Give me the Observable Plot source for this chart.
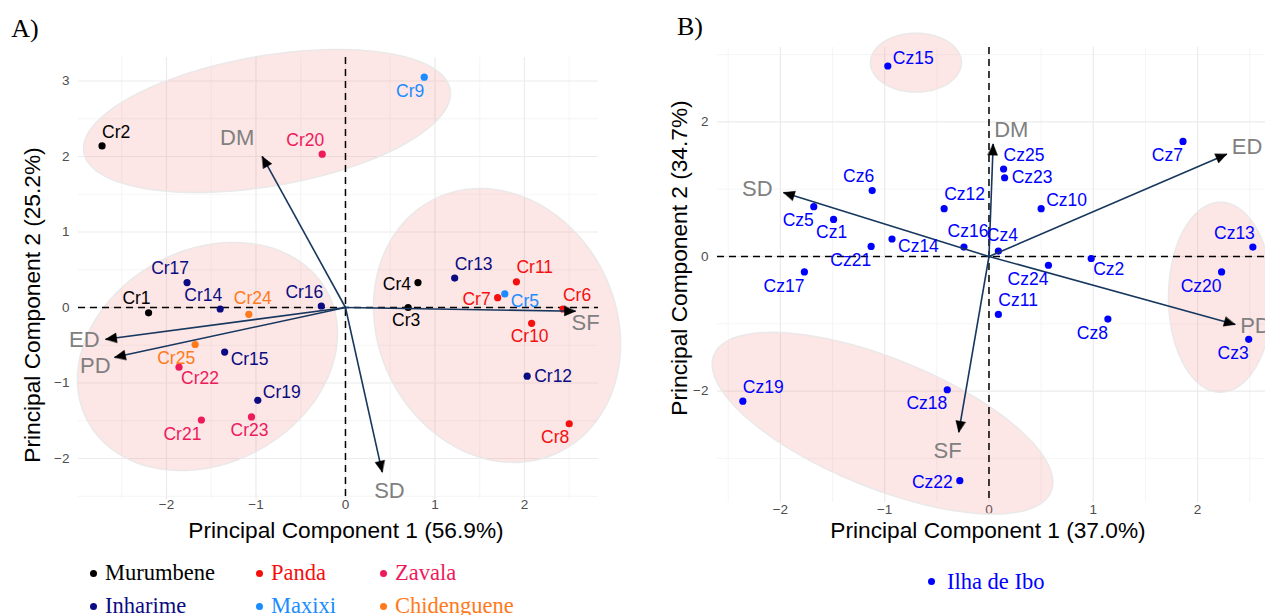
<!DOCTYPE html>
<html>
<head>
<meta charset="utf-8">
<script src="https://cdn.jsdelivr.net/npm/d3@7"></script>
<script src="https://cdn.jsdelivr.net/npm/@observablehq/plot@0.6"></script>
<style>
html,body{margin:0;padding:0;overflow:hidden;background:#fff;width:1265px;height:615px;}
#root{position:relative;width:1265px;height:615px;overflow:hidden;}
#pa{position:absolute;left:0;top:0;width:640px;}
#pb{position:absolute;left:640px;top:0;width:660px;}
.ttl{position:absolute;font-family:"Liberation Sans",Arial,sans-serif;font-size:22.7px;color:#000;white-space:nowrap;line-height:1;transform:translate(-50%,-50%);}
.ttl.rot{transform:translate(-50%,-50%) rotate(-90deg);}
.tag{position:absolute;font-family:"Liberation Serif","Times New Roman",serif;font-size:26px;line-height:1;color:#000;transform:translate(-50%,-50%);}
.legend{position:absolute;display:grid;font-family:"Liberation Serif","Times New Roman",serif;font-size:22.5px;}
.item{display:flex;align-items:center;height:33px;white-space:nowrap;}
.bul{width:7px;height:7px;border-radius:50%;flex:none;}
</style>
</head>
<body>
<div id="root">
  <div id="pa"></div>
  <div id="pb"></div>
</div>
<script>
// ---------------- Panel A data ----------------
const groupsA = ["Murumbene", "Panda", "Zavala", "Inharime", "Maxixi", "Chidenguene"];
const colorsA = ["#000000", "#f50f0f", "#ee1a5c", "#0b0b82", "#1a8cff", "#ff7a1a"];

const namesA = ["Cr1","Cr2","Cr3","Cr4","Cr5","Cr6","Cr7","Cr8","Cr9","Cr10","Cr11","Cr12","Cr13","Cr14","Cr15","Cr16","Cr17","Cr19","Cr20","Cr21","Cr22","Cr23","Cr24","Cr25"];
const pc1A = [-2.20,-2.72,0.70,0.81,1.78,2.43,1.70,2.50,0.88,2.08,1.91,2.03,1.22,-1.40,-1.35,-0.27,-1.77,-0.98,-0.26,-1.61,-1.86,-1.05,-1.08,-1.68];
const pc2A = [-0.07,2.14,0.00,0.33,0.18,-0.02,0.13,-1.54,3.05,-0.21,0.34,-0.91,0.39,-0.02,-0.59,0.02,0.33,-1.23,2.03,-1.49,-0.79,-1.45,-0.09,-0.49];
const siteA = ["Murumbene","Murumbene","Murumbene","Murumbene","Maxixi","Panda","Panda","Panda","Maxixi","Panda","Panda","Inharime","Inharime","Inharime","Inharime","Inharime","Inharime","Inharime","Zavala","Zavala","Zavala","Zavala","Chidenguene","Chidenguene"];
const labelPosA = ["NW","NE","S","W","ESE","NE","W","SW","SW","S","NE","E","NE","NW","ESE","NW","NW","ENE","NW","SW","SE","S","N","SW"];

const varsA = ["DM","ED","PD","SF","SD"];
const loadA1 = [-0.93,-2.68,-2.58,2.57,0.41];
const loadA2 = [2.00,-0.42,-0.66,-0.05,-2.18];
const varPosA = ["NW","W","WSW","SE","SSE"];

// cluster ellipses (centre and two conjugate semi-axes, data units)
const ellA_cx = [-0.877,-1.542,1.693];
const ellA_cy = [2.470,-0.649,-0.238];
const ellA_ax = [2.050,1.453,1.380];
const ellA_ay = [0.364,0.305,-0.246];
const ellA_bx = [0,0,0];
const ellA_by = [0.874,-1.479,1.797];

// ---------------- Panel B data ----------------
const groupsB = ["Ilha de Ibo"];
const colorsB = ["#0000ff"];
const namesB = ["Cz1","Cz2","Cz3","Cz4","Cz5","Cz6","Cz7","Cz8","Cz10","Cz11","Cz12","Cz13","Cz14","Cz15","Cz16","Cz17","Cz18","Cz19","Cz20","Cz21","Cz22","Cz23","Cz24","Cz25"];
const pc1B = [-1.49,0.98,2.49,0.09,-1.68,-1.12,1.86,1.14,0.50,0.09,-0.43,2.53,-0.93,-0.97,-0.24,-1.77,-0.40,-2.36,2.23,-1.13,-0.28,0.15,0.57,0.14];
const pc2B = [0.55,-0.03,-1.23,0.08,0.74,0.98,1.71,-0.93,0.71,-0.86,0.71,0.14,0.26,2.83,0.14,-0.23,-1.98,-2.15,-0.23,0.15,-3.33,1.17,-0.13,1.30];
const labelPosB = ["S","SE","SW","N","SW","NW","SW","SW","ENE","NE","NE","NW","ESE","ENE","N","SW","SW","NE","SW","SW","W","E","SW","NE"];

const varsB = ["SD","DM","ED","PD","SF"];
const loadB1 = [-1.97,0.04,2.28,2.36,-0.29];
const loadB2 = [0.95,1.67,1.52,-1.01,-2.61];
const varPosB = ["WNW","NE","ENE","E","SSW"];

const ellB_cx = [-0.700,-1.021,2.220];
const ellB_cy = [2.880,-2.477,-0.605];
const ellB_ax = [0.436,1.617,0.499];
const ellB_ay = [0,-1.013,0];
const ellB_bx = [0,-0.230,0];
const ellB_by = [0.438,-0.892,1.412];

// tick / grid values
const ticksXA = [-2,-1,0,1,2];
const minorXA = [-2.5,-1.5,-0.5,0.5,1.5,2.5];
const ticksYA = [-2,-1,0,1,2,3];
const minorYA = [-2.5,-1.5,-0.5,0.5,1.5,2.5];
const ticksXB = [-2,-1,0,1,2];
const minorXB = [-2.5,-1.5,-0.5,0.5,1.5,2.5];
const ticksYB = [-2,0,2];
const minorYB = [-3,-1,1,3];

// label placement codes -> [anchor, dx, dy]
const nudgePt = {
  N:["middle",4,-16], S:["middle",-2,13], E:["start",7,0], W:["end",-7,2],
  NE:["start",0,-14], NW:["end",2,-14], SE:["start",2,11], SW:["end",0,14],
  ENE:["start",5,-8], ESE:["start",6,7]
};
const nudgeVar = {
  NW:["end",-8,-19], W:["end",-6,1], WSW:["end",-4,9], SE:["start",-4,11.5], SSE:["start",-8,19],
  WNW:["end",-11,-4], NE:["start",1,-14], ENE:["start",5,-7], E:["start",5,1], SSW:["end",3,19]
};

const fmt = d => (d < 0 ? "\u2212" : "") + Math.abs(d);

function ellipsePts(cx, cy, ax, ay, bx, by) {
  const out = [];
  cx.forEach((c, i) => {
    for (let k = 0; k < 120; k++) {
      const t = (k / 120) * 2 * Math.PI;
      out.push({id: i, x: c + Math.cos(t) * ax[i] + Math.sin(t) * bx[i], y: cy[i] + Math.cos(t) * ay[i] + Math.sin(t) * by[i]});
    }
  });
  return out;
}

function panel(o) {
  const innerW = o.width - o.ml - o.mr, innerH = o.height - o.mt - o.mb;
  const kx = innerW / (o.xd[1] - o.xd[0]);
  const ky = innerH / (o.yd[1] - o.yd[0]);
  const heads = o.vars.flatMap(v => {
    const L = 11, W = 4.8;
    const sx = v.x * kx, sy = -v.y * ky;
    const n = Math.hypot(sx, sy), ux = sx / n, uy = sy / n;
    const bx = sx - L * ux, by = sy - L * uy, px = -uy, py = ux;
    return [[sx, sy], [bx + W * px, by + W * py], [bx - W * px, by - W * py]]
      .map(([X, Y]) => ({id: v.name, x: X / kx, y: -Y / ky}));
  });
  const gridMajor = "#ebebeb", gridMinor = "#f2f2f2";
  const marks = [
    Plot.ruleX(o.minorX, {stroke: gridMinor, strokeWidth: 0.8}),
    Plot.ruleY(o.minorY, {stroke: gridMinor, strokeWidth: 0.8}),
    Plot.ruleX(o.ticksX, {stroke: gridMajor, strokeWidth: 1.2}),
    Plot.ruleY(o.ticksY, {stroke: gridMajor, strokeWidth: 1.2}),
    // tick labels
    Plot.text(o.ticksX, {x: d => d, text: fmt, frameAnchor: "bottom", dy: o.xPad, fill: "#4d4d4d", fontSize: 13.5}),
    Plot.text(o.ticksY, {y: d => d, text: fmt, frameAnchor: "left", textAnchor: "end", dx: -9, fill: "#4d4d4d", fontSize: 13.5}),
    Plot.line(o.ellipses, {x: "x", y: "y", z: "id", fill: "#f08080", fillOpacity: 0.2, stroke: "#ebe8e8", strokeWidth: 1.5, curve: "linear-closed"}),
    Plot.ruleY([0], {stroke: "#000", strokeWidth: 1.5, strokeDasharray: "7,5"}),
    Plot.ruleX([0], {stroke: "#000", strokeWidth: 1.5, strokeDasharray: "7,5"}),
    Plot.dot(o.points, {x: "x", y: "y", fill: "group", r: 3.6}),
    Plot.link(o.vars, {x1: d => 0, y1: d => 0, x2: "x", y2: "y", stroke: "#17375e", strokeWidth: 1.6}),
    Plot.line(heads, {x: "x", y: "y", z: "id", fill: "#000", stroke: "#000", strokeWidth: 0.5, curve: "linear-closed"})
  ];
  for (const [code, [anchor, dx, dy]] of Object.entries(nudgeVar)) {
    const sub = o.vars.filter(v => v.pos === code);
    if (sub.length) marks.push(Plot.text(sub, {x: "x", y: "y", text: "name", fill: "#808080", fontSize: 22, textAnchor: anchor, dx, dy}));
  }
  for (const [code, [anchor, dx, dy]] of Object.entries(nudgePt)) {
    const sub = o.points.filter(p => p.pos === code);
    if (sub.length) marks.push(Plot.text(sub, {x: "x", y: "y", text: "name", fill: "group", fontSize: 17.5, textAnchor: anchor, dx, dy}));
  }
  return Plot.plot({
    width: o.width, height: o.height,
    marginLeft: o.ml, marginRight: o.mr, marginTop: o.mt, marginBottom: o.mb,
    x: {domain: o.xd, axis: null},
    y: {domain: o.yd, axis: null},
    color: {domain: o.groups, range: o.colors},
    style: {fontFamily: "Liberation Sans, Arial, sans-serif", fontSize: "13.5px", color: "#4d4d4d", background: "transparent", overflow: "visible"},
    marks
  });
}

const pointsA = namesA.map((n, i) => ({name: n, x: pc1A[i], y: pc2A[i], group: siteA[i], pos: labelPosA[i]}));
const vA = varsA.map((n, i) => ({name: n, x: loadA1[i], y: loadA2[i], pos: varPosA[i]}));
const pointsB = namesB.map((n, i) => ({name: n, x: pc1B[i], y: pc2B[i], group: groupsB[0], pos: labelPosB[i]}));
const vB = varsB.map((n, i) => ({name: n, x: loadB1[i], y: loadB2[i], pos: varPosB[i]}));

document.getElementById("pa").append(panel({
  width: 640, height: 540, ml: 78, mr: 42, mt: 57, mb: 41,
  xd: [-2.983, 2.827], yd: [-2.543, 3.311],
  ticksX: ticksXA, minorX: minorXA, ticksY: ticksYA, minorY: minorYA, xPad: 9,
  points: pointsA, vars: vA,
  ellipses: ellipsePts(ellA_cx, ellA_cy, ellA_ax, ellA_ay, ellA_bx, ellA_by),
  groups: groupsA, colors: colorsA
}));
document.getElementById("pb").append(panel({
  width: 660, height: 540, ml: 77, mr: 20, mt: 47, mb: 38,
  xd: [-2.603, 2.795], yd: [-3.655, 3.105],
  ticksX: ticksXB, minorX: minorXB, ticksY: ticksYB, minorY: minorYB, xPad: 11,
  points: pointsB, vars: vB,
  ellipses: ellipsePts(ellB_cx, ellB_cy, ellB_ax, ellB_ay, ellB_bx, ellB_by),
  groups: groupsB, colors: colorsB
}));

// ---------------- titles, tags, legends ----------------
const root = document.getElementById("root");
function addDiv(cls, text, left, top) {
  const d = document.createElement("div");
  d.className = cls; d.textContent = text;
  d.style.left = left + "px"; d.style.top = top + "px";
  root.append(d);
  return d;
}
addDiv("tag", "A)", 25, 29);
addDiv("tag", "B)", 690, 27);
addDiv("ttl", "Principal Component 1 (56.9%)", 346, 530);
addDiv("ttl rot", "Principal Component 2 (25.2%)", 32, 305);
addDiv("ttl", "Principal Component 1 (37.0%)", 988, 530);
addDiv("ttl rot", "Principal Component 2 (34.7%)", 679, 258);

function legend(groups, colors, left, top, cols, gap) {
  const lg = document.createElement("div");
  lg.className = "legend";
  lg.style.left = left + "px"; lg.style.top = top + "px";
  lg.style.gridTemplateColumns = cols;
  groups.forEach((g, i) => {
    const it = document.createElement("div");
    it.className = "item";
    const b = document.createElement("span");
    b.className = "bul"; b.style.background = colors[i]; b.style.marginRight = gap + "px";
    const t = document.createElement("span");
    t.textContent = g; t.style.color = colors[i];
    it.append(b, t);
    lg.append(it);
  });
  root.append(lg);
}
legend(groupsA, colorsA, 89.5, 556.5, "166px 124px auto", 8.5);
legend(groupsB, colorsB, 928.2, 565.2, "auto", 11.8);
</script>
</body>
</html>
